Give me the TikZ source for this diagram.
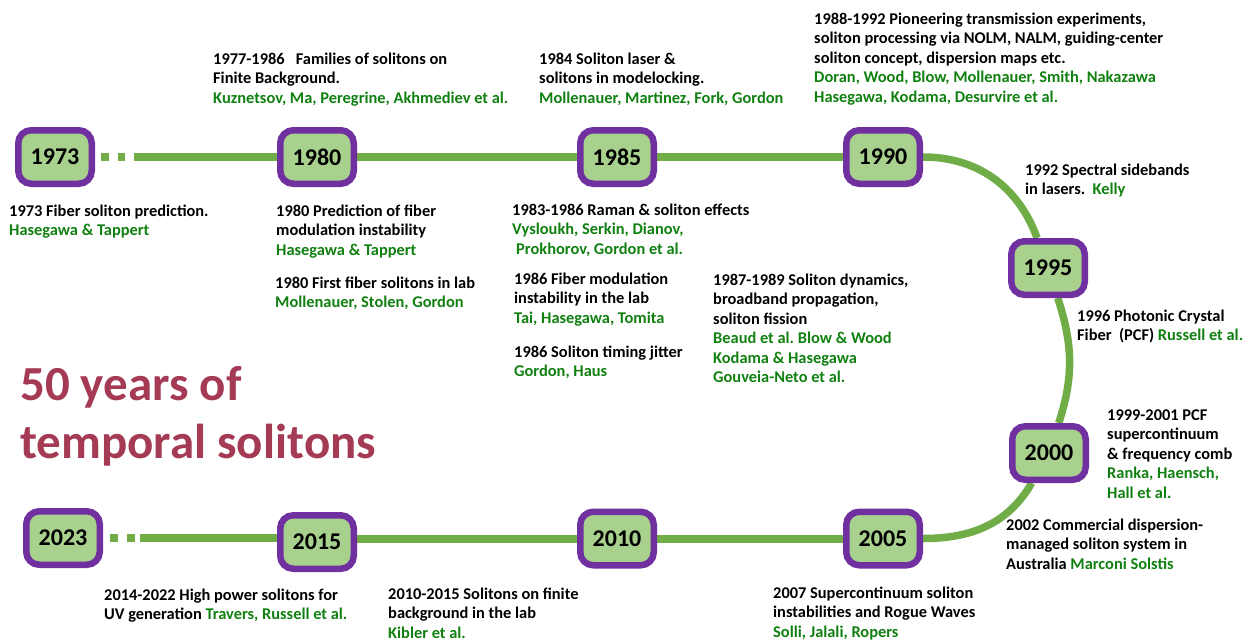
\documentclass[tikz,border=0pt]{standalone}
\usepackage{fontspec}
\setmainfont{Carlito}
\usetikzlibrary{backgrounds}
\frenchspacing
\definecolor{linegreen}{RGB}{112,173,71}
\definecolor{boxfill}{RGB}{169,209,142}
\definecolor{boxborder}{RGB}{112,48,160}
\definecolor{authgreen}{RGB}{16,128,16}
\definecolor{titlered}{RGB}{165,58,85}
\newcommand{\au}[1]{\textcolor{authgreen}{#1}}
\tikzset{
  yearbox/.style={draw=boxborder, fill=boxfill, line width=6.5pt, rounded corners=13pt,
    minimum width=73.5pt, minimum height=53.5pt, inner sep=0pt,
    font=\fontsize{24}{28}\selectfont\bfseries},
  tline/.style={draw=linegreen, line width=8pt},
  note/.style={anchor=north west, inner sep=0pt, align=left,
    font=\fontsize{16.4}{19.5}\selectfont\bfseries\frenchspacing},
  titletext/.style={anchor=north west, inner sep=0pt, align=left, text=titlered,
    font=\fontsize{49}{58}\selectfont\bfseries},
}
\begin{document}
\begin{tikzpicture}[x=1pt,y=-1pt]
\useasboundingbox (0,0) rectangle (1252,641);
% year boxes
\node[yearbox] (y1973) at (55,157) {1973};
\node[yearbox] (y1980) at (317,157) {1980};
\node[yearbox] (y1985) at (617,157) {1985};
\node[yearbox] (y1990) at (883,157) {1990};
\node[yearbox] (y1995) at (1048,268) {1995};
\node[yearbox] (y2000) at (1049,453) {2000};
\node[yearbox] (y2005) at (883,538.5) {2005};
\node[yearbox] (y2010) at (617,538.5) {2010};
\node[yearbox] (y2015) at (317,542) {2015};
\node[yearbox] (y2023) at (63,538) {2023};
% timeline
\begin{pgfonlayer}{background}
\draw[tline, dash pattern=on 0pt off 6pt on 7.5pt off 9pt on 7.5pt off 9pt on 2000pt] (y1973.east) -- (y1980.west);
\draw[tline] (y1980) -- (y1985) -- (y1990);
\draw[tline, line width=7.5pt] (y1990) to[out=0,in=110] (y1995);
\draw[tline, line width=7.5pt] (y1995) to[out=-72,in=72] (y2000);
\draw[tline, line width=7.5pt] (y2000) to[out=-120,in=0] (y2005);
\draw[tline] (y2005) -- (y2010) -- (y2010 -| y2015);
\draw[tline, dash pattern=on 0pt off 7pt on 8pt off 9pt on 8pt off 5pt on 2000pt] (y2023.east) -- (y2023.east -| y2015.west);
\end{pgfonlayer}
% notes
\node[note] (t1977) at (213,50.3) {\strut 1977-1986\ \ \ Families of solitons on\\Finite Background.\\\au{Kuznetsov, Ma, Peregrine, Akhmediev et al.}};
\node[note] (t1984) at (539,50.3) {\strut 1984 Soliton laser \&\\solitons in modelocking.\\\au{Mollenauer, Martinez, Fork, Gordon}};
\node[note] (t1988) at (814,10.3) {\strut 1988-1992 Pioneering transmission experiments,\\soliton processing via NOLM, NALM, guiding-center\\soliton concept, dispersion maps etc.\\\au{Doran, Wood, Blow, Mollenauer, Smith, Nakazawa}\\\au{Hasegawa, Kodama, Desurvire et al.}};
\node[note] (t1973) at (9,202.3) {\strut 1973 Fiber soliton prediction.\\\au{Hasegawa \& Tappert}};
\node[note] (t1980a) at (276,202.3) {\strut 1980 Prediction of fiber\\modulation instability\\\au{Hasegawa \& Tappert}};
\node[note] (t1980b) at (275,274.3) {\strut 1980 First fiber solitons in lab\\\au{Mollenauer, Stolen, Gordon}};
\node[note] (t1983) at (512,201.3) {\strut 1983-1986 Raman \& soliton effects\\\au{Vysloukh, Serkin, Dianov,}\\\hspace*{4pt}\au{Prokhorov, Gordon et al.}};
\node[note] (t1986a) at (514,270.3) {\strut 1986 Fiber modulation\\instability in the lab\\\au{Tai, Hasegawa, Tomita}};
\node[note] (t1986b) at (514,343.3) {\strut 1986 Soliton timing jitter\\\au{Gordon, Haus}};
\node[note] (t1987) at (713,271.3) {\strut 1987-1989 Soliton dynamics,\\broadband propagation,\\soliton fission\\\au{Beaud et al. Blow \& Wood}\\\au{Kodama \& Hasegawa}\\\au{Gouveia-Neto et al.}};
\node[note] (t1992) at (1025,161.3) {\strut 1992 Spectral sidebands\\in lasers.\ \ \au{Kelly}};
\node[note] (t1996) at (1077,307.3) {\strut 1996 Photonic Crystal\\Fiber\ \ (PCF) \au{Russell et al.}};
\node[note] (t1999) at (1107,406.3) {\strut 1999-2001 PCF\\supercontinuum\\\& frequency comb\\\au{Ranka, Haensch,}\\\au{Hall et al.}};
\node[note] (t2002) at (1006,516.3) {\strut 2002 Commercial dispersion-\\managed soliton system in\\Australia \au{Marconi Solstis}};
\node[note] (t2007) at (773,584.3) {\strut 2007 Supercontinuum soliton\\instabilities and Rogue Waves\\\au{Solli, Jalali, Ropers}};
\node[note] (t2010) at (388,585.3) {\strut 2010-2015 Solitons on finite\\background in the lab\\\au{Kibler et al.}};
\node[note] (t2014) at (104,586.3) {\strut 2014-2022 High power solitons for\\UV generation \au{Travers, Russell et al.}};
\node[titletext] (title) at (20,359.4) {\strut 50 years of\\temporal solitons};
\end{tikzpicture}
\end{document}
